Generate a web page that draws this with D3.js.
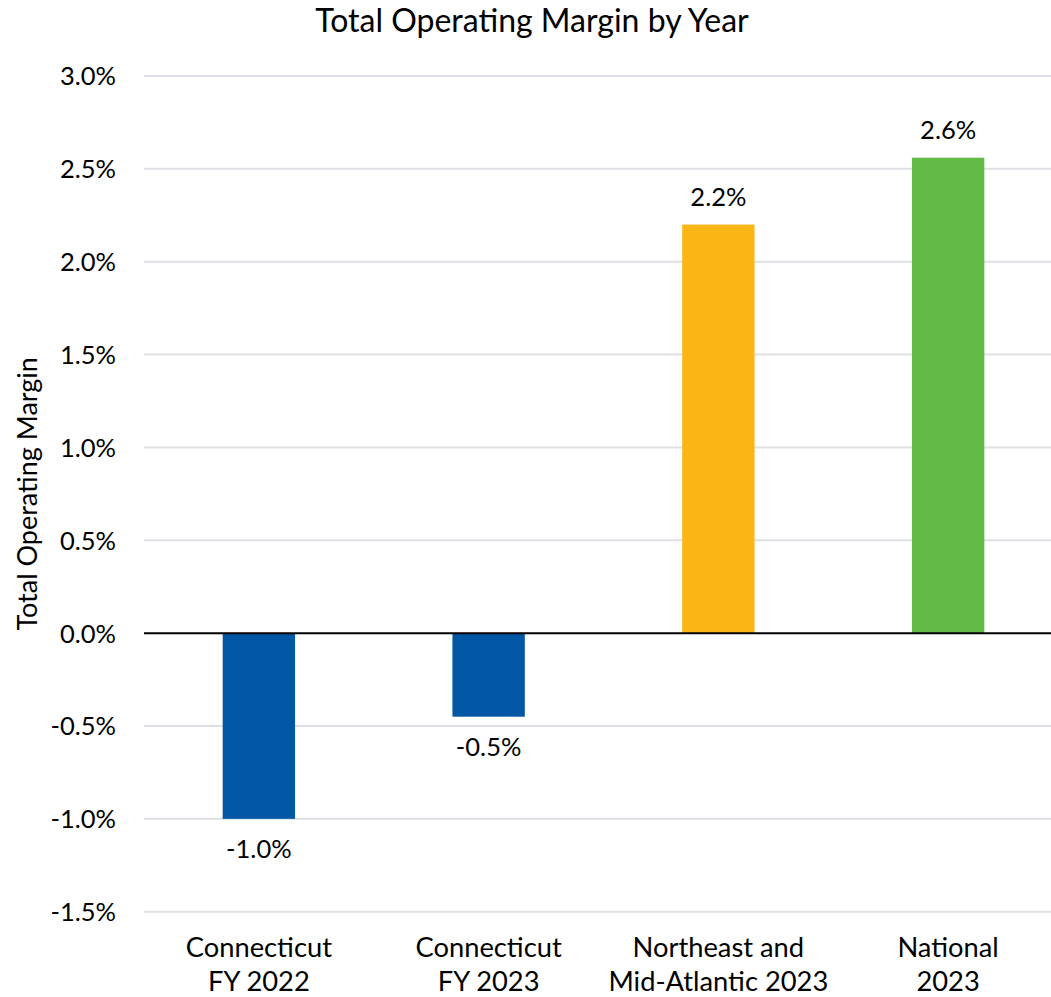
<!DOCTYPE html>
<html>
<head>
<meta charset="utf-8">
<script src="https://cdn.jsdelivr.net/npm/d3@7"></script>
<style>
  html, body { margin: 0; padding: 0; background: #ffffff; }
  svg { display: block; }
  text { font-family: Lato, "Open Sans", sans-serif; fill: #000; }
</style>
</head>
<body>
<svg id="chart" width="1051" height="997"></svg>
<script>
// Chart data
const categories = [
  ["Connecticut", "FY 2022"],
  ["Connecticut", "FY 2023"],
  ["Northeast and", "Mid-Atlantic 2023"],
  ["National", "2023"]
];
const margins = [-1.0, -0.45, 2.2, 2.56];          // percent
const barColors = ["#0157A3", "#0157A3", "#FBB616", "#62BB47"];
const yTicks = [-1.5, -1.0, -0.5, 0.0, 0.5, 1.0, 1.5, 2.0, 2.5, 3.0];

const chartTitle = "Total Operating Margin by Year";
const yAxisTitle = "Total Operating Margin";

// Percent label, rounded half away from zero to one decimal
const fmt = v => {
  const r = Math.sign(v) * Math.round(Math.abs(v) * 10) / 10;
  return r.toFixed(1) + "%";
};

const svg = d3.select("#chart");
const plot = { left: 144, right: 1063, top: 76, bottom: 911.7 };

const x = d3.scaleBand()
  .domain(d3.range(categories.length))
  .range([plot.left, plot.right])
  .paddingInner(0.685)
  .paddingOuter(0.3425);

const y = d3.scaleLinear()
  .domain([-1.5, 3.0])
  .range([plot.bottom, plot.top]);

// Gridlines
svg.append("g")
  .selectAll("line")
  .data(yTicks.filter(t => t !== 0))
  .join("line")
  .attr("x1", plot.left)
  .attr("x2", plot.right)
  .attr("y1", d => y(d))
  .attr("y2", d => y(d))
  .attr("stroke", "#DDE1E5")
  .attr("stroke-width", 2);

// Y tick labels
const yAxis = d3.axisLeft(y)
  .tickValues(yTicks)
  .tickFormat(d => d.toFixed(1) + "%")
  .tickSize(0)
  .tickPadding(0);

const yAxisG = svg.append("g")
  .attr("transform", `translate(116,0)`)
  .call(yAxis);
yAxisG.select(".domain").remove();
yAxisG.selectAll("text")
  .attr("font-size", 25.5)
  .attr("font-family", "Lato, sans-serif")
  .attr("fill", "#000")
  .attr("dy", "0.35em");

// Bars
svg.append("g")
  .selectAll("rect")
  .data(margins)
  .join("rect")
  .attr("x", (d, i) => x(i))
  .attr("width", x.bandwidth())
  .attr("y", d => y(Math.max(0, d)))
  .attr("height", d => Math.abs(y(d) - y(0)))
  .attr("fill", (d, i) => barColors[i]);

// Zero line
svg.append("line")
  .attr("x1", plot.left)
  .attr("x2", plot.right)
  .attr("y1", y(0))
  .attr("y2", y(0))
  .attr("stroke", "#000")
  .attr("stroke-width", 2);

// Value labels
svg.append("g")
  .selectAll("text")
  .data(margins)
  .join("text")
  .attr("x", (d, i) => x(i) + x.bandwidth() / 2)
  .attr("y", d => d >= 0 ? y(d) - 19 : y(d) + 39)
  .attr("text-anchor", "middle")
  .attr("font-size", 25.5)
  .text(d => fmt(d));

// Category labels
const catG = svg.append("g")
  .selectAll("text")
  .data(categories)
  .join("text")
  .attr("text-anchor", "middle")
  .attr("font-size", 27.3)
  .attr("x", (d, i) => x(i) + x.bandwidth() / 2);
catG.append("tspan")
  .attr("y", 957)
  .attr("x", (d, i) => x(i) + x.bandwidth() / 2)
  .text(d => d[0]);
catG.append("tspan")
  .attr("y", 991)
  .attr("x", (d, i) => x(i) + x.bandwidth() / 2)
  .text(d => d[1]);

// Axis title
svg.append("text")
  .attr("transform", `translate(37,${(plot.top + plot.bottom) / 2}) rotate(-90)`)
  .attr("text-anchor", "middle")
  .attr("font-size", 27)
  .text(yAxisTitle);

// Chart title
svg.append("text")
  .attr("x", 532)
  .attr("y", 32)
  .attr("text-anchor", "middle")
  .attr("font-size", 32)
  .text(chartTitle);
</script>
</body>
</html>
